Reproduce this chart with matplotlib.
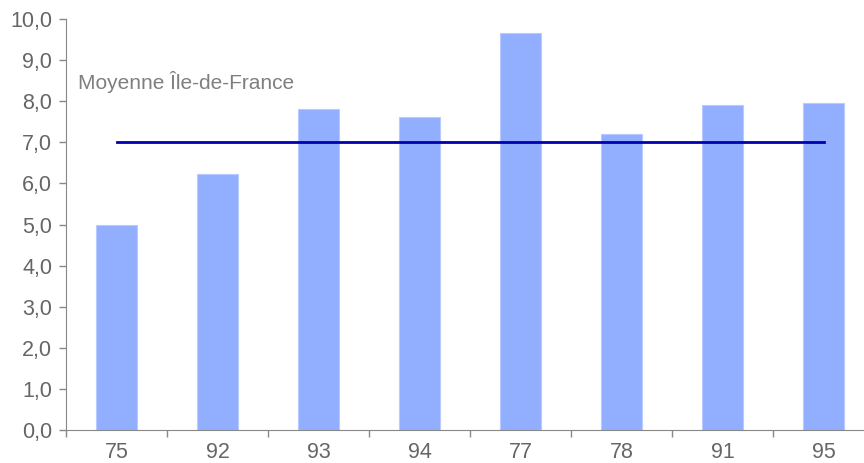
import matplotlib.pyplot as plt
import numpy as np

plt.rcParams['font.family'] = ['Liberation Sans', 'DejaVu Sans']

departements = ['75', '92', '93', '94', '77', '78', '91', '95']
valeurs = [5.0, 6.23, 7.81, 7.62, 9.66, 7.2, 7.91, 7.96]
moyenne_idf = 7.0

fig = plt.figure(figsize=(8.64, 4.63), dpi=100)
ax = fig.add_axes([66/864, 33/463, 808/864, 411/463])

x = np.arange(len(departements))
ax.bar(x, valeurs, width=0.4, color='#92aeff', edgecolor='#b8caff', linewidth=0.8, zorder=2)
ax.plot([x[0], x[-1]], [moyenne_idf, moyenne_idf], color='#0000b0', lw=2, zorder=3)
ax.text(-0.38, 8.47, 'Moyenne Île-de-France', color='#7f7f7f', fontsize=15,
        va='center', ha='left')

ax.set_xlim(-0.5, len(departements) - 0.5)
ax.set_ylim(0, 10)
ax.set_yticks(np.arange(0, 11, 1))
ax.set_yticklabels([f'{v:.1f}'.replace('.', ',') for v in range(11)])
ax.set_xticks(x)
ax.set_xticklabels(departements)
ax.set_xticks(np.arange(-0.5, len(departements), 1), minor=True)
ax.tick_params(axis='x', which='major', length=0, pad=9)
ax.tick_params(axis='x', which='minor', length=5, color='#888888', width=1)
ax.tick_params(axis='y', length=5, color='#888888', width=1, pad=5)
ax.tick_params(labelsize=15.5, labelcolor='#666666')

for s in ['top', 'right']:
    ax.spines[s].set_visible(False)
for s in ['left', 'bottom']:
    ax.spines[s].set_color('#888888')

plt.savefig('out.png', dpi=100)
